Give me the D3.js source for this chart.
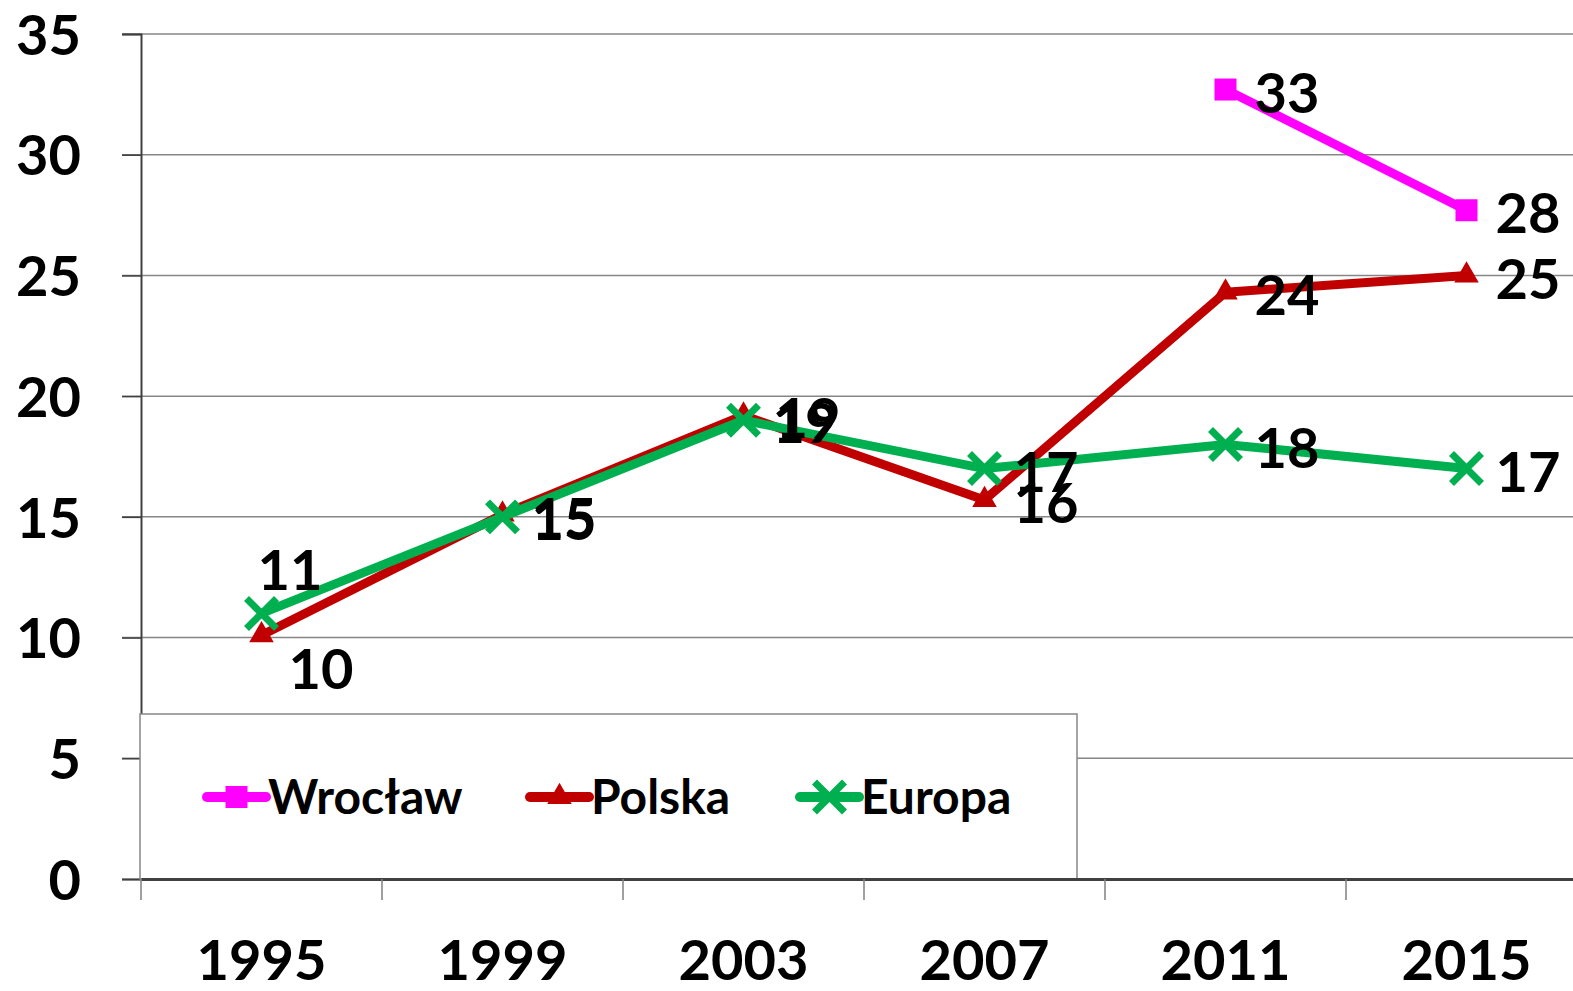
<!DOCTYPE html>
<html>
<head>
<meta charset="utf-8">
<script src="https://cdn.jsdelivr.net/npm/d3@7/dist/d3.min.js"></script>
<style>
  body { margin: 0; background: #fff; }
  text { font-family: Lato, "Open Sans", sans-serif; font-weight: bold; fill: #000; }
</style>
</head>
<body>
<script>
// chart data
var years = ["1995", "1999", "2003", "2007", "2011", "2015"];
var wroclaw = [null, null, null, null, 32.7, 27.7];
var polska = [10.1, 15.1, 19.2, 15.7, 24.3, 25.0];
var europa = [11.0, 15.0, 19.0, 17.0, 18.0, 17.0];
var yTicks = [0, 5, 10, 15, 20, 25, 30, 35];
var seriesNames = ["Wrocław", "Polska", "Europa"];

window.onload = function(){
    var width = 1573,
        height = 991;

    var svg = d3.select("body")
        .append("svg")
        .attr("width", width)
        .attr("height", height);

    var x = d3.scaleBand()
        .domain(years)
        .range([141, 1587]);

    var y = d3.scaleLinear()
        .domain([0, 35])
        .range([879, 34]);

    var cx = function(i){ return x(years[i]) + x.bandwidth() / 2; };

    // gridlines
    svg.append("g")
        .selectAll("line")
        .data(yTicks.slice(1))
        .enter()
        .append("line")
        .attr("x1", 122)
        .attr("x2", 1587)
        .attr("y1", function(d){ return y(d); })
        .attr("y2", function(d){ return y(d); })
        .attr("stroke", "#868686")
        .attr("stroke-width", 1.5);

    // y axis
    var yAxis = svg.append("g")
        .attr("transform", "translate(141,0)")
        .call(d3.axisLeft(y).tickValues(yTicks).tickSize(19).tickPadding(41));
    yAxis.select(".domain").attr("stroke", "#404040").attr("stroke-width", 2);
    yAxis.selectAll(".tick line").attr("stroke", "#404040").attr("stroke-width", 1.5);
    yAxis.selectAll("text")
        .attr("font-size", 56)
        .attr("dy", "0.36em")
        .style("font-family", "Lato, sans-serif")
        .style("font-weight", "bold")
        .attr("fill", "#000");

    // legend box (sits behind the lines)
    var legend = svg.append("g");
    legend.append("rect")
        .attr("x", 140)
        .attr("y", 714)
        .attr("width", 937)
        .attr("height", 165)
        .attr("fill", "#fff")
        .attr("stroke", "#868686")
        .attr("stroke-width", 1.5);

    // x axis
    var xAxis = svg.append("g")
        .attr("transform", "translate(0,879)")
        .call(d3.axisBottom(x).tickSize(0).tickPadding(61));
    xAxis.select(".domain").attr("stroke", "#404040").attr("stroke-width", 3);
    xAxis.selectAll("text")
        .attr("font-size", 56)
        .style("font-family", "Lato, sans-serif")
        .style("font-weight", "bold")
        .attr("fill", "#000");
    xAxis.selectAll(".sep")
        .data(years)
        .enter()
        .append("line")
        .attr("x1", function(d){ return x(d); })
        .attr("x2", function(d){ return x(d); })
        .attr("y1", 0)
        .attr("y2", 21)
        .attr("stroke", "#808080")
        .attr("stroke-width", 1.5);

    var colors = ["#FF00FF", "#C00000", "#00B050"];
    var data = [wroclaw, polska, europa];

    // points with their index, nulls dropped
    var pts = data.map(function(vals){
        return vals.map(function(v, i){ return {v: v, i: i}; })
            .filter(function(p){ return p.v != null; });
    });

    var line = d3.line()
        .x(function(p){ return cx(p.i); })
        .y(function(p){ return y(p.v); });

    function drawMarker(sel, k){
        if (k === 0) {
            sel.append("path").attr("d", d3.symbol(d3.symbolSquare, 484)()).attr("fill", colors[k]);
        } else if (k === 1) {
            sel.append("path").attr("d", d3.symbol(d3.symbolTriangle, 260)()).attr("fill", colors[k]);
        } else {
            sel.append("path").attr("d", "M-15,-15L15,15M-15,15L15,-15")
                .attr("stroke", colors[k]).attr("stroke-width", 7).attr("fill", "none");
        }
    }

    pts.forEach(function(p, k){
        svg.append("path")
            .datum(p)
            .attr("d", line)
            .attr("fill", "none")
            .attr("stroke", colors[k])
            .attr("stroke-width", 9)
            .attr("stroke-linejoin", "round");

        svg.append("g")
            .selectAll("g")
            .data(p)
            .enter()
            .append("g")
            .attr("transform", function(d){
                return "translate(" + cx(d.i) + "," + y(d.v) + ")";
            })
            .each(function(){ drawMarker(d3.select(this), k); });
    });

    // data labels: right of the point, except a few moved by hand
    var labelShift = {
        "1-0": [27, 34],
        "2-0": [-4, -44],
        "1-2": [32, 2]
    };
    pts.forEach(function(p, k){
        svg.append("g")
            .selectAll("text")
            .data(p)
            .enter()
            .append("text")
            .attr("font-size", 56)
            .attr("dy", "0.36em")
            .attr("text-anchor", "start")
            .attr("x", function(d){
                var s = labelShift[k + "-" + d.i];
                return s ? cx(d.i) + s[0] : cx(d.i) + 29;
            })
            .attr("y", function(d){
                var s = labelShift[k + "-" + d.i];
                return s ? y(d.v) + s[1] : y(d.v) + 3;
            })
            .text(function(d){ return Math.round(d.v); });
    });

    // legend entries
    var legendX = [207, 530, 800];
    seriesNames.forEach(function(name, k){
        var g = legend.append("g").attr("transform", "translate(" + legendX[k] + ",797)");
        g.append("line")
            .attr("x1", 0).attr("x2", 59)
            .attr("stroke", colors[k])
            .attr("stroke-width", 10)
            .attr("stroke-linecap", "round");
        var m = g.append("g").attr("transform", "translate(29.5,0)");
        drawMarker(m, k);
        g.append("text")
            .attr("x", 61)
            .attr("dy", "0.36em")
            .attr("font-size", 48)
            .text(name);
    });
};
</script>
</body>
</html>
